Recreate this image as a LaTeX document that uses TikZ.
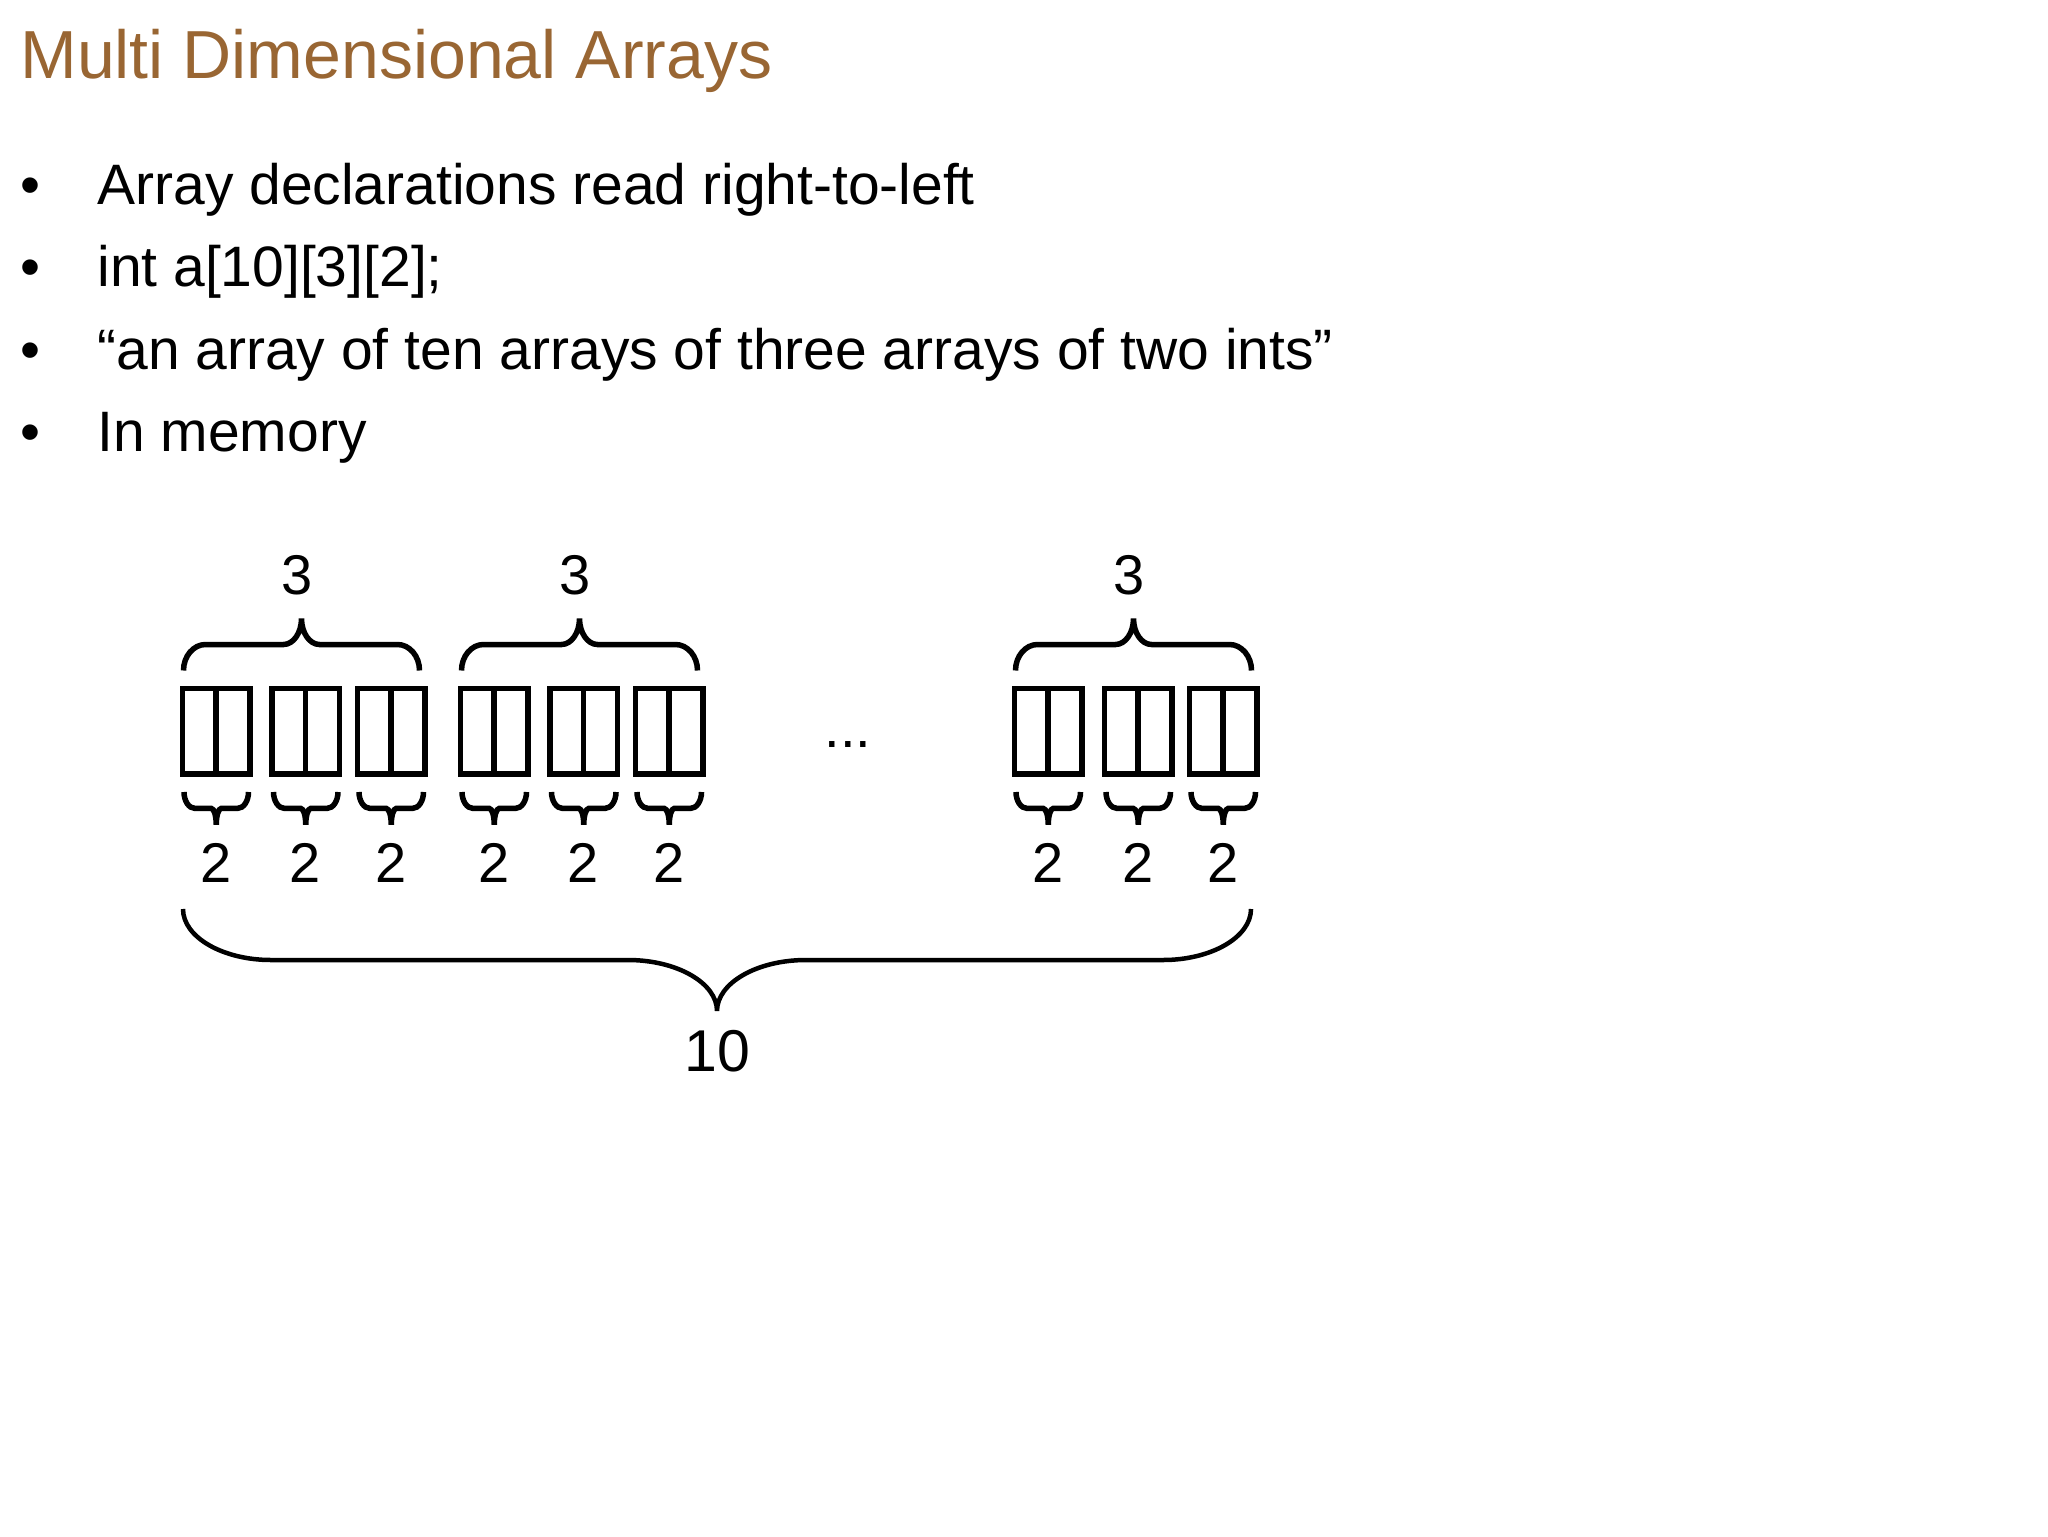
\documentclass[tikz,border=0pt]{standalone}
\usepackage{fontspec}
\setmainfont{Liberation Sans}
\usepackage{tikz}
\usetikzlibrary{positioning,calc}
\definecolor{titlebrown}{RGB}{153, 102, 51}
\definecolor{inkblack}{RGB}{0, 0, 0}

\begin{document}
\begin{tikzpicture}[x=0.5pt, y=-0.5pt,
	heading/.style={draw=none, anchor=base west, inner sep=0pt, text=titlebrown, font=\fontsize{34}{40}\selectfont},
	item/.style={draw=none, anchor=base west, inner sep=0pt, text=inkblack, font=\fontsize{28.5}{34}\selectfont},
	bullet/.style={draw=none, anchor=base, inner sep=0pt, text=inkblack, font=\fontsize{28.5}{34}\selectfont},
	num/.style={draw=none, inner sep=0pt, text=inkblack, font=\fontsize{28}{34}\selectfont},
	cell/.style={draw=inkblack, rectangle, line width=2.75pt, minimum width=33.75pt, minimum height=42.75pt, inner sep=0pt,
		path picture={\draw[line width=2.75pt] (path picture bounding box.north) -- (path picture bounding box.south);}},
	curly/.style n args={3}{to path={let \p1=(\tikztostart), \p2=(\tikztotarget), \p3=($(\p1)!0.5!(\p2)$) in
		(\p1) .. controls +(0,{0.55*(#2)}) and +({-0.55*(#1)},0) .. ({\x1+(#1)},{\y1+(#2)})
		-- ({\x3-(#3)},{\y1+(#2)}) .. controls +({0.55*(#3)},0) and +(0,{-0.55*(#2)}) .. (\x3,{\y1+2*(#2)})
		.. controls +(0,{-0.55*(#2)}) and +({-0.55*(#3)},0) .. ({\x3+(#3)},{\y1+(#2)})
		-- ({\x2-(#1)},{\y1+(#2)}) .. controls +({0.55*(#1)},0) and +(0,{0.55*(#2)}) .. (\p2)}},
	threebrace/.style={draw=inkblack, line width=2.75pt, curly={11pt}{13pt}{9pt}},
	twobrace/.style={draw=inkblack, line width=2.75pt, curly={5.5pt}{-8.2pt}{2.5pt}},
	tenbrace/.style={draw=inkblack, line width=2.25pt, curly={44pt}{-25.5pt}{44.5pt}}
	]
	\path[use as bounding box, fill=white] (0,0) rectangle (2048,1536);
	
	\node[heading](head) at (20,79) {Multi Dimensional Arrays};
	
	\node[bullet](bu0) at (30,204) {\textbullet};
	\node[item](it0) at (97,204) {Array declarations read right-to-left};
	\node[bullet](bu1) at (30,286.5) {\textbullet};
	\node[item](it1) at (97,286.5) {int a[10][3][2];};
	\node[bullet](bu2) at (30,369) {\textbullet};
	\node[item](it2) at (97,369) {“an array of ten arrays of three arrays of two ints”};
	\node[bullet](bu3) at (30,451.5) {\textbullet};
	\node[item](it3) at (97,451.5) {In memory};
	
	% memory cells, two ints each
	\node[cell](c0) at (216,731) {};
	\node[cell](c1) [right = 8.25pt of c0] {};
	\node[cell](c2) [right = 6.25pt of c1] {};
	\node[cell](c3) [right = 15pt of c2] {};
	\node[cell](c4) [right = 8.25pt of c3] {};
	\node[cell](c5) [right = 6.25pt of c4] {};
	\node[cell](c6) [right = 153pt of c5] {};
	\node[cell](c7) [right = 8.5pt of c6] {};
	\node[cell](c8) [right = 6pt of c7] {};
	
	\node[num, anchor=base](gap) at (848,747) {...};
	
	\node[num](g0) [above = 45.25pt of c1, xshift=-4pt] {3};
	\node[num](g1) [above = 45.25pt of c4, xshift=-4pt] {3};
	\node[num](g2) [above = 45.25pt of c7, xshift=-4.25pt] {3};
	
	\node[num](s0) [below = 33.25pt of c0] {2};
	\node[num](s1) [below = 33.25pt of c1] {2};
	\node[num](s2) [below = 33.25pt of c2] {2};
	\node[num](s3) [below = 33.25pt of c3] {2};
	\node[num](s4) [below = 33.25pt of c4] {2};
	\node[num](s5) [below = 33.25pt of c5] {2};
	\node[num](s6) [below = 33.25pt of c6] {2};
	\node[num](s7) [below = 33.25pt of c7] {2};
	\node[num](s8) [below = 33.25pt of c8] {2};
	
	\node[num, anchor=north, font=\fontsize{29.5}{35}\selectfont](ten) at ($(c0.south west)!0.5!(c8.south east)$) [xshift=-1.25pt, yshift=-126.75pt] {10};
	
	\draw[threebrace] ([shift={(4,-15)}]c0.north west) to ([shift={(-8,-15)}]c2.north east);
	\draw[threebrace] ([shift={(4,-15)}]c3.north west) to ([shift={(-8,-15)}]c5.north east);
	\draw[threebrace] ([shift={(4,-15)}]c6.north west) to ([shift={(-8,-15)}]c8.north east);
	
	\draw[twobrace] ([shift={(4.5,15.5)}]c0.south west) to ([shift={(-4,15.5)}]c0.south east);
	\draw[twobrace] ([shift={(4.5,15.5)}]c1.south west) to ([shift={(-4,15.5)}]c1.south east);
	\draw[twobrace] ([shift={(4.5,15.5)}]c2.south west) to ([shift={(-4,15.5)}]c2.south east);
	\draw[twobrace] ([shift={(4.5,15.5)}]c3.south west) to ([shift={(-4,15.5)}]c3.south east);
	\draw[twobrace] ([shift={(4.5,15.5)}]c4.south west) to ([shift={(-4,15.5)}]c4.south east);
	\draw[twobrace] ([shift={(4.5,15.5)}]c5.south west) to ([shift={(-4,15.5)}]c5.south east);
	\draw[twobrace] ([shift={(4.5,15.5)}]c6.south west) to ([shift={(-4,15.5)}]c6.south east);
	\draw[twobrace] ([shift={(4.5,15.5)}]c7.south west) to ([shift={(-4,15.5)}]c7.south east);
	\draw[twobrace] ([shift={(4.5,15.5)}]c8.south west) to ([shift={(-4,15.5)}]c8.south east);
	
	\draw[tenbrace] ([shift={(3.5,132.5)}]c0.south west) to ([shift={(-8.5,132.5)}]c8.south east);
\end{tikzpicture}
\end{document}
